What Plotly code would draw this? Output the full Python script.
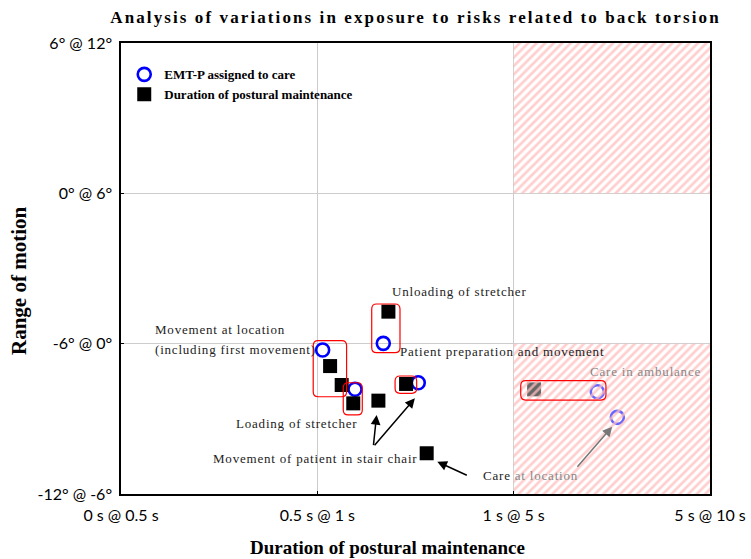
import plotly.graph_objects as go

# ---- data ----
x_tick_vals = [0, 1, 2, 3]
x_tick_text = ["0 s @ 0.5 s", "0.5 s @ 1 s", "1 s @ 5 s", "5 s @ 10 s"]
y_tick_vals = [0, 1, 2, 3]
y_tick_text = ["-12° @ -6°", "-6° @ 0°", "0° @ 6°", "6° @ 12°"]

emt_x = [1.027, 1.192, 1.336, 1.514, 2.426, 2.528]
emt_y = [0.958, 0.697, 1.002, 0.740, 0.680, 0.510]

dur_x = [1.065, 1.124, 1.183, 1.311, 1.362, 1.452, 1.557, 2.104]
dur_y = [0.851, 0.725, 0.603, 0.621, 1.213, 0.732, 0.271, 0.696]

# hatched risk zones (x0, x1, y0, y1)
zones = [(2, 3, 2, 3), (2, 3, 0, 1)]

# rounded grouping boxes (x0, x1, y0, y1)
boxes = [
    (0.979, 1.149, 0.647, 1.020),
    (1.132, 1.229, 0.526, 0.740),
    (1.277, 1.421, 0.940, 1.264),
    (1.396, 1.506, 0.670, 0.785),
    (2.036, 2.470, 0.625, 0.754),
]

# labels: text, x, y, colour
labels = [
    ("Unloading of stretcher", 1.370, 1.350, "#222"),
    ("Movement at location", 0.163, 1.091, "#222"),
    ("(including first movement)", 0.163, 0.958, "#222"),
    ("Patient preparation and movement", 1.411, 0.945, "#222"),
    ("Care in ambulance", 2.379, 0.812, "#888"),
    ("Loading of stretcher", 0.576, 0.466, "#222"),
    ("Movement of patient in stair chair", 0.458, 0.233, "#222"),
    ("Care <span style='color:#888'>at location</span>", 1.834, 0.126, "#222"),
]

# arrows: tail x, tail y, head x, head y, colour
arrows = [
    (1.285, 0.315, 1.302, 0.526, "black"),
    (1.285, 0.315, 1.497, 0.637, "black"),
    (1.769, 0.120, 1.611, 0.215, "black"),
    (2.318, 0.171, 2.502, 0.448, "#777"),
]

title_text = "Analysis of variations in exposure to risks related to back torsion"
x_title = "Duration of postural maintenance"
y_title = "Range of motion"

SERIF = "Liberation Serif"
SANS = "Lato"

W, H = 751, 559


def spaced(t, px):
    return f"<span style='letter-spacing:{px}px'>{t}</span>"


fig = go.Figure()

fig.add_trace(go.Scatter(
    x=emt_x, y=emt_y, mode="markers", name="<b>EMT-P assigned to care</b>",
    marker=dict(symbol="circle-open", size=13, color="#0000ff", line=dict(width=2.6, color="#0000ff")),
))
fig.add_trace(go.Scatter(
    x=dur_x, y=dur_y, mode="markers", name="<b>Duration of postural maintenance</b>",
    marker=dict(symbol="square", size=14, color="black"),
))

for (x0, x1, y0, y1) in zones:
    fig.add_trace(go.Scatter(
        x=[x0, x1, x1, x0, x0], y=[y0, y0, y1, y1, y0], mode="lines",
        fill="toself", line=dict(width=0), showlegend=False, hoverinfo="skip",
        fillcolor="rgba(255,255,255,0.4)",
        fillpattern=dict(shape="/", fgcolor="rgb(255,190,190)", fgopacity=0.75,
                         bgcolor="rgba(255,255,255,0.4)", size=6, solidity=0.45),
    ))

rx, ry = 0.025, 0.033
for (x0, x1, y0, y1) in boxes:
    path = (f"M {x0+rx},{y0} L {x1-rx},{y0} Q {x1},{y0} {x1},{y0+ry} "
            f"L {x1},{y1-ry} Q {x1},{y1} {x1-rx},{y1} "
            f"L {x0+rx},{y1} Q {x0},{y1} {x0},{y1-ry} "
            f"L {x0},{y0+ry} Q {x0},{y0} {x0+rx},{y0} Z")
    fig.add_shape(type="path", path=path, xref="x", yref="y",
                  line=dict(color="red", width=1.2), layer="above")

for (t, x, y, c) in labels:
    fig.add_annotation(x=x, y=y, text=spaced(t, 0.8), showarrow=False, xanchor="left", yanchor="middle",
                       font=dict(family=SERIF, size=13, color=c))

for (tx, ty, hx, hy, c) in arrows:
    fig.add_annotation(x=hx, y=hy, ax=tx, ay=ty, axref="x", ayref="y", xref="x", yref="y",
                       text="", showarrow=True, arrowhead=2, arrowsize=1.3, arrowwidth=1.5,
                       arrowcolor=c)

# axis titles (placed as annotations: they are off-centre in the reference)
fig.add_annotation(x=0.4533, y=-0.1197, xref="paper", yref="paper", showarrow=False,
                   text=f"<b>{x_title}</b>", xanchor="center", yanchor="middle",
                   font=dict(family=SERIF, size=19, color="black"))
fig.add_annotation(x=-0.1732, y=0.4723, xref="paper", yref="paper", showarrow=False,
                   text=f"<b>{y_title}</b>", textangle=-90, xanchor="center", yanchor="middle",
                   font=dict(family=SERIF, size=21, color="black"))

fig.update_layout(
    width=W, height=H,
    margin=dict(l=121, r=41, t=43, b=65),
    paper_bgcolor="white", plot_bgcolor="white",
    title=dict(text="<b>" + spaced(title_text, 2.1) + "</b>",
               x=0.5, xref="paper", xanchor="center", y=1 - 17 / H, yanchor="middle",
               font=dict(family=SERIF, size=17, color="black")),
    legend=dict(x=0.0055, y=0.9636, xanchor="left", yanchor="top", bgcolor="rgba(0,0,0,0)",
                font=dict(family=SERIF, size=13, color="black"), tracegroupgap=0),
    showlegend=True,
)

fig.update_xaxes(range=[0, 3], tickvals=x_tick_vals, ticktext=x_tick_text, automargin=False,
                 showgrid=True, gridcolor="#cccccc", gridwidth=1, zeroline=False,
                 showline=True, linecolor="black", linewidth=1.5, mirror=True,
                 ticks="inside", ticklen=3, tickcolor="black", ticklabelstandoff=6,
                 tickfont=dict(family=SANS, size=16, color="black"))
fig.update_yaxes(range=[0, 3], tickvals=y_tick_vals, ticktext=y_tick_text, automargin=False,
                 showgrid=True, gridcolor="#cccccc", gridwidth=1, zeroline=False,
                 showline=True, linecolor="black", linewidth=1.5, mirror=True,
                 ticks="inside", ticklen=3, tickcolor="black", ticklabelstandoff=4,
                 tickfont=dict(family=SANS, size=16, color="black"))

# remove the default 8px page margin so the 751x559 figure fills the window exactly
fig.write_html("out.html", config={"displayModeBar": False},
               post_script="document.body.style.margin='0';")
